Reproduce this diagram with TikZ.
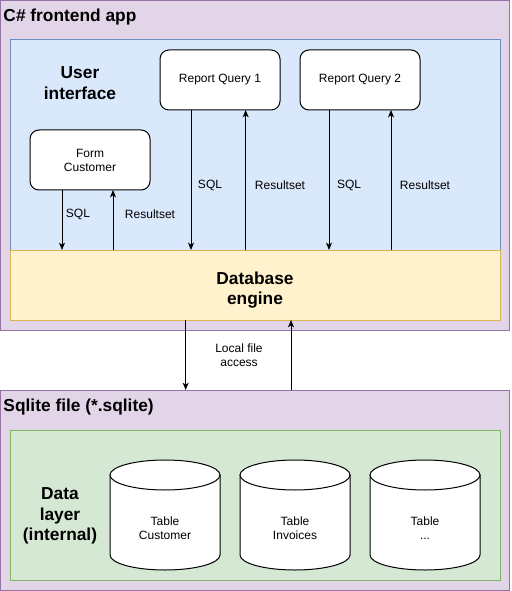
\documentclass[tikz,border=0pt]{standalone}
\usepackage{fontspec}
\setmainfont{Liberation Sans}
\usetikzlibrary{shapes,arrows,arrows.meta,positioning}
\definecolor{purplefill}{HTML}{E1D5E7}
\definecolor{purpleline}{HTML}{9673A6}
\definecolor{bluefill}{HTML}{DAE8FC}
\definecolor{blueline}{HTML}{6C8EBF}
\definecolor{yellowfill}{HTML}{FFF2CC}
\definecolor{yellowline}{HTML}{D6B656}
\definecolor{greenfill}{HTML}{D5E8D4}
\definecolor{greenline}{HTML}{82B366}

\begin{document}
\begin{tikzpicture}[x=0.75pt,y=-0.75pt,line width=0.75pt,
  container/.style={rectangle,inner sep=0,outer sep=0},
  appbox/.style={container,draw=purpleline,fill=purplefill},
  uibox/.style={container,draw=blueline,fill=bluefill},
  enginebox/.style={container,draw=yellowline,fill=yellowfill},
  databox/.style={container,draw=greenline,fill=greenfill},
  formstyle/.style={rectangle,rounded corners=6.75pt,draw,fill=white,minimum width=90pt,minimum height=45pt,align=center,inner sep=0,outer sep=0,font=\fontsize{9}{10.5}\selectfont},
  title/.style={font=\fontsize{13}{15.5}\selectfont\bfseries,align=center,inner sep=0},
  lbl/.style={font=\fontsize{9}{10.5}\selectfont,align=center,inner sep=0},
  flow/.style={-{Stealth[length=5.5pt,width=4.5pt,inset=1.5pt]}}]
\useasboundingbox (0,0) rectangle (511,591);
% containers
\node [appbox,minimum width=381.75pt,minimum height=247.125pt] (app) at (255,165.25) {};
\node [uibox,minimum width=367.5pt,minimum height=157.5pt] (ui) at (255,145) {};
\node [enginebox,minimum width=367.5pt,minimum height=52.5pt] (engine) at (255,285) {};
\node [appbox,minimum width=381.75pt,minimum height=150pt] (sqlite) at (255,490) {};
\node [databox,minimum width=367.5pt,minimum height=112.5pt] (data) at (255,505) {};
\node [title,anchor=west] (apptitle) at (3,17) {C\# frontend app};
\node [title,anchor=west] (sqlitetitle) at (3,407) {Sqlite file (*.sqlite)};
\node [title] (uititle) at (80,83) {User\\interface};
\node [title] (enginetitle) at (255,290) {Database\\engine};
\node [title] (datatitle) at (60,516) {Data\\layer\\(internal)};
% forms and queries
\node [formstyle] (form) at (90,160) {Form\\Customer};
\node [formstyle] (query1) at (220,80) {Report Query 1};
\node [formstyle] (query2) at (360,80) {Report Query 2};
\coordinate (sqlform) at ([xshift=-21pt]form.south);
\coordinate (resform) at ([xshift=17.25pt]form.south);
\coordinate (sqlq1) at ([xshift=-21.75pt]query1.south);
\coordinate (resq1) at ([xshift=19.25pt]query1.south);
\coordinate (sqlq2) at ([xshift=-23.25pt]query2.south);
\coordinate (resq2) at ([xshift=23.25pt]query2.south);
\coordinate (filedown) at ([xshift=-52pt]engine.south);
\coordinate (fileup) at ([xshift=27pt]engine.south);
\draw [flow] (sqlform) -- (sqlform |- engine.north);
\draw [flow] (resform |- engine.north) -- (resform);
\draw [flow] (sqlq1) -- (sqlq1 |- engine.north);
\draw [flow] (resq1 |- engine.north) -- (resq1);
\draw [flow] (sqlq2) -- (sqlq2 |- engine.north);
\draw [flow] (resq2 |- engine.north) -- (resq2);
\draw [flow] (filedown) -- (filedown |- sqlite.north);
\draw [flow] (fileup |- sqlite.north) -- (fileup);
\node [lbl] (sqlformlbl) at (78,214) {SQL};
\node [lbl] (resformlbl) at (150,214) {Resultset};
\node [lbl] (sqlq1lbl) at (210,185) {SQL};
\node [lbl] (resq1lbl) at (280,185) {Resultset};
\node [lbl] (sqlq2lbl) at (349,185) {SQL};
\node [lbl] (resq2lbl) at (425,185) {Resultset};
\node [lbl] (filelbl) at (239,355) {Local file\\access};
% tables
\filldraw [fill=white] (110,475) -- (110,555) arc [start angle=180,end angle=360,x radius=41.25pt,y radius=11.25pt] -- (220,475) -- cycle;
\filldraw [fill=white] (165,475) ellipse [x radius=41.25pt,y radius=11.25pt];
\filldraw [fill=white] (240,475) -- (240,555) arc [start angle=180,end angle=360,x radius=41.25pt,y radius=11.25pt] -- (350,475) -- cycle;
\filldraw [fill=white] (295,475) ellipse [x radius=41.25pt,y radius=11.25pt];
\filldraw [fill=white] (370,475) -- (370,555) arc [start angle=180,end angle=360,x radius=41.25pt,y radius=11.25pt] -- (480,475) -- cycle;
\filldraw [fill=white] (425,475) ellipse [x radius=41.25pt,y radius=11.25pt];
\node [lbl] (custtable) at (165,528) {Table\\Customer};
\node [lbl] (invtable) at (295,528) {Table\\Invoices};
\node [lbl] (moretable) at (425,528) {Table\\...};
\end{tikzpicture}
\end{document}
